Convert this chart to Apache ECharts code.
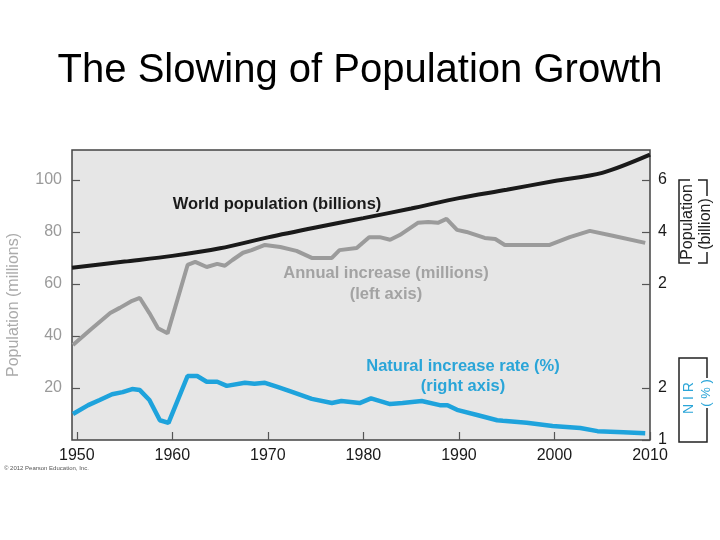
<!DOCTYPE html>
<html>
<head>
<meta charset="utf-8">
<script src="https://cdn.jsdelivr.net/npm/echarts@6/dist/echarts.min.js"></script>
<style>html,body{margin:0;padding:0;background:#fff;}#c{width:720px;height:540px;}</style>
</head>
<body>
<div id="c"></div>
<script>
// ---- data ----
var yearTicks = [1950, 1960, 1970, 1980, 1990, 2000, 2010];
var leftTicks = [20, 40, 60, 80, 100];          // Population (millions)
var popTicks = [2, 4, 6];                        // Population (billion)
var nirTicks = [1, 2];                           // NIR (%)

// World population (billions)
var popYears = [1949.5, 1955, 1960, 1965, 1970, 1975, 1980, 1985, 1990, 1995, 2000, 2005, 2010];
var popValues = [2.62, 2.86, 3.08, 3.37, 3.79, 4.17, 4.53, 4.9, 5.3, 5.62, 5.96, 6.27, 6.97];

// Annual increase (millions), left axis
var incYears = [1949.6, 1951.4, 1953.5, 1954.5, 1955.8, 1956.6, 1957.6, 1958.5, 1959.5, 1961.6, 1962.4, 1963.6, 1964.7, 1965.5, 1966.3, 1967.4, 1968.3, 1969.7, 1971.3, 1973, 1974.6, 1976.7, 1977.5, 1979.3, 1980.6, 1981.7, 1982.8, 1983.8, 1985.7, 1986.8, 1987.8, 1988.7, 1989.8, 1990.8, 1992.7, 1993.8, 1994.8, 1996.7, 1999.5, 2001.6, 2003.7, 2006.1, 2009.5];
var incValues = [36.5, 42.3, 48.8, 50.8, 53.5, 54.6, 48.8, 43, 41, 67.3, 68.5, 66.5, 67.7, 67, 69.2, 72, 73, 75, 74.2, 72.7, 70, 70, 73, 73.8, 78, 78, 77, 78.8, 83.5, 83.8, 83.5, 85, 80.8, 80, 77.7, 77.3, 75, 75, 75, 78, 80.4, 78.5, 75.8];

// Natural increase rate (%), right axis
var nirYears = [1949.6, 1951.2, 1952.4, 1953.7, 1954.8, 1955.8, 1956.6, 1957.6, 1958.7, 1959.6, 1961.6, 1962.6, 1963.6, 1964.7, 1965.7, 1967.6, 1968.6, 1969.7, 1971, 1972.6, 1974.6, 1976.7, 1977.7, 1979.6, 1980.8, 1982.8, 1984.1, 1986.1, 1988, 1988.8, 1989.8, 1991.9, 1994, 1994.6, 1997.1, 1999.8, 2002.7, 2004.5, 2007.2, 2009.5];
var nirValues = [1.5, 1.67, 1.77, 1.88, 1.92, 1.98, 1.96, 1.77, 1.38, 1.33, 2.23, 2.23, 2.12, 2.12, 2.04, 2.1, 2.08, 2.1, 2.02, 1.92, 1.79, 1.71, 1.75, 1.71, 1.8, 1.69, 1.71, 1.75, 1.67, 1.67, 1.58, 1.48, 1.38, 1.37, 1.33, 1.27, 1.23, 1.17, 1.15, 1.13];

function pairs(xs, ys) { return xs.map(function (x, i) { return [x, ys[i]]; }); }

var FONT = '"Liberation Sans", Arial, sans-serif';
var chart = echarts.init(document.getElementById('c'), null, { renderer: 'canvas' });

var tickStyle = { show: true, inside: true, length: 8, lineStyle: { color: '#555', width: 1.2 } };
function plain(v) { return String(v); }

chart.setOption({
  animation: false,
  backgroundColor: '#ffffff',
  grid: { left: 72, right: 70, top: 150, bottom: 100, show: true, backgroundColor: '#e6e6e6', borderColor: '#444', borderWidth: 1.5 },
  xAxis: {
    type: 'value', min: 1949.5, max: 2010,
    axisLine: { show: false },
    splitLine: { show: false },
    axisTick: Object.assign({ customValues: yearTicks }, tickStyle),
    axisLabel: { customValues: yearTicks, formatter: plain, color: '#1a1a1a', fontSize: 16, fontFamily: FONT, margin: 8 }
  },
  yAxis: [
    {
      type: 'value', min: 0, max: 111.5, position: 'left',
      axisLine: { show: false }, splitLine: { show: false },
      axisTick: Object.assign({ customValues: leftTicks }, tickStyle),
      axisLabel: { customValues: leftTicks, formatter: plain, color: '#9a9a9a', fontSize: 16, fontFamily: FONT, margin: 10 }
    },
    {
      type: 'value', min: -4, max: 7.15, position: 'right',
      axisLine: { show: false }, splitLine: { show: false },
      axisTick: Object.assign({ customValues: popTicks }, tickStyle),
      axisLabel: { customValues: popTicks, formatter: plain, color: '#1a1a1a', fontSize: 16, fontFamily: FONT, margin: 8 }
    },
    {
      type: 'value', min: 1, max: 6.575, position: 'right',
      axisLine: { show: false }, splitLine: { show: false },
      axisTick: Object.assign({ customValues: nirTicks }, tickStyle),
      axisLabel: { customValues: nirTicks, formatter: plain, color: '#1a1a1a', fontSize: 16, fontFamily: FONT, margin: 8 }
    }
  ],
  series: [
    { type: 'line', name: 'Annual increase (millions)', yAxisIndex: 0, data: pairs(incYears, incValues), showSymbol: false, lineStyle: { color: '#9b9b9b', width: 4 } },
    { type: 'line', name: 'World population (billions)', yAxisIndex: 1, data: pairs(popYears, popValues), smooth: 0.3, showSymbol: false, lineStyle: { color: '#1a1a1a', width: 4 } },
    { type: 'line', name: 'Natural increase rate (%)', yAxisIndex: 2, data: pairs(nirYears, nirValues), showSymbol: false, lineStyle: { color: '#1ea3dc', width: 4.5 } }
  ],
  graphic: [
    { type: 'text', left: 'center', top: 51, style: { text: 'The Slowing of Population Growth', font: '40px ' + FONT, fill: '#000' } },
    { type: 'text', x: 14, y: 305, rotation: Math.PI / 2, style: { text: 'Population (millions)', font: '16px ' + FONT, fill: '#ababab', align: 'center', verticalAlign: 'middle' } },
    { type: 'text', x: 277, y: 204, style: { text: 'World population (billions)', font: 'bold 16.5px ' + FONT, fill: '#1a1a1a', align: 'center', verticalAlign: 'middle' } },
    { type: 'text', x: 386, y: 273, style: { text: 'Annual increase (millions)', font: 'bold 16.5px ' + FONT, fill: '#a3a3a3', align: 'center', verticalAlign: 'middle' } },
    { type: 'text', x: 386, y: 294, style: { text: '(left axis)', font: 'bold 16.5px ' + FONT, fill: '#a3a3a3', align: 'center', verticalAlign: 'middle' } },
    { type: 'text', x: 463, y: 366, style: { text: 'Natural increase rate (%)', font: 'bold 16.5px ' + FONT, fill: '#2aa5d8', align: 'center', verticalAlign: 'middle' } },
    { type: 'text', x: 463, y: 386, style: { text: '(right axis)', font: 'bold 16.5px ' + FONT, fill: '#2aa5d8', align: 'center', verticalAlign: 'middle' } },
    // Population (billion) bracket
    { type: 'polyline', shape: { points: [[690, 180], [679, 180], [679, 263], [690, 263]] }, style: { stroke: '#222', lineWidth: 1.5, fill: null } },
    { type: 'polyline', shape: { points: [[698, 180], [707, 180], [707, 196]] }, style: { stroke: '#222', lineWidth: 1.5, fill: null } },
    { type: 'polyline', shape: { points: [[707, 252], [707, 263], [698, 263]] }, style: { stroke: '#222', lineWidth: 1.5, fill: null } },
    { type: 'text', x: 688, y: 222, rotation: Math.PI / 2, style: { text: 'Population', font: '16px ' + FONT, fill: '#222', align: 'center', verticalAlign: 'middle' } },
    { type: 'text', x: 706, y: 224, rotation: Math.PI / 2, style: { text: '(billion)', font: '16px ' + FONT, fill: '#222', align: 'center', verticalAlign: 'middle' } },
    // NIR (%) bracket
    { type: 'polyline', shape: { points: [[703, 358], [679, 358], [679, 442], [703, 442]] }, style: { stroke: '#222', lineWidth: 1.5, fill: null } },
    { type: 'polyline', shape: { points: [[703, 358], [707, 358], [707, 378]] }, style: { stroke: '#222', lineWidth: 1.5, fill: null } },
    { type: 'polyline', shape: { points: [[707, 408], [707, 442], [703, 442]] }, style: { stroke: '#222', lineWidth: 1.5, fill: null } },
    { type: 'text', x: 689, y: 398, rotation: Math.PI / 2, style: { text: 'N I R', font: '14px ' + FONT, fill: '#2aa5d8', align: 'center', verticalAlign: 'middle' } },
    { type: 'text', x: 706, y: 393, rotation: Math.PI / 2, style: { text: '( % )', font: '13px ' + FONT, fill: '#2aa5d8', align: 'center', verticalAlign: 'middle' } },
    { type: 'text', x: 4, y: 465, style: { text: '\u00a9 2012 Pearson Education, Inc.', font: '6px ' + FONT, fill: '#555' } }
  ]
});
</script>
</body>
</html>
